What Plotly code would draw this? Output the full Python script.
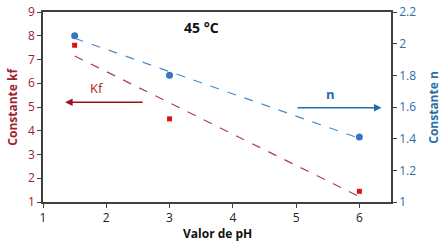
import numpy as np
import plotly.graph_objects as go

ph = [1.5, 3, 6]
kf = [7.6, 4.5, 1.45]
n_vals = [2.05, 1.80, 1.41]
x_ticks = [1, 2, 3, 4, 5, 6]
kf_ticks = [1, 2, 3, 4, 5, 6, 7, 8, 9]
n_ticks = [1, 1.2, 1.4, 1.6, 1.8, 2, 2.2]

RED_TXT = "#9B2335"
RED_MK = "#E01010"
BLUE_TXT = "#2E6DA8"
BLUE_MK = "#3A74C0"
FONT = "Open Sans"

kf_fit = np.polyfit(ph, kf, 1)
n_fit = np.polyfit(ph, n_vals, 1)
xf = [ph[0], ph[-1]]

fig = go.Figure()
fig.add_trace(go.Scatter(x=xf, y=list(np.polyval(kf_fit, xf)), mode="lines",
                         line=dict(color="#A8424E", width=1.2, dash="dash"), yaxis="y"))
fig.add_trace(go.Scatter(x=ph, y=kf, mode="markers",
                         marker=dict(color=RED_MK, size=5, symbol="square"), yaxis="y"))
fig.add_trace(go.Scatter(x=xf, y=list(np.polyval(n_fit, xf)), mode="lines",
                         line=dict(color="#4A8CC8", width=1.2, dash="dash"), yaxis="y2"))
fig.add_trace(go.Scatter(x=ph, y=n_vals, mode="markers",
                         marker=dict(color=BLUE_MK, size=7, symbol="circle"), yaxis="y2"))

fig.update_layout(
    width=442, height=245, showlegend=False,
    margin=dict(l=43, r=51, t=12, b=43, autoexpand=False),
    plot_bgcolor="white", paper_bgcolor="white",
    font=dict(family=FONT, size=12),
    xaxis=dict(range=[1, 6.5], tickvals=x_ticks, showgrid=False, zeroline=False,
               automargin=False,
               showline=True, linecolor="#404040", linewidth=1.5, mirror=True,
               ticks="outside", ticklen=4, tickcolor="#404040",
               tickfont=dict(color="#222222", size=12)),
    yaxis=dict(range=[1, 9], tickvals=kf_ticks, showgrid=False, zeroline=False,
               automargin=False,
               showline=True, linecolor="#404040", linewidth=1.5,
               ticks="outside", ticklen=4, tickcolor="#404040",
               tickfont=dict(color=RED_TXT, size=12)),
    yaxis2=dict(range=[1, 2.2], tickvals=n_ticks, overlaying="y", side="right",
                showgrid=False, zeroline=False, automargin=False,
                showline=True, linecolor="#404040", linewidth=1.5,
                ticks="outside", ticklen=4, tickcolor="#404040",
                tickfont=dict(color=BLUE_TXT, size=12)),
)

# axis titles
fig.add_annotation(x=0.5, y=-0.165, xref="paper", yref="paper", yanchor="middle",
                   text="<b>Valor de pH</b>", showarrow=False, font=dict(size=12, color="#111111"))
fig.add_annotation(x=-0.09, y=0.5, xref="paper", yref="paper", xanchor="center",
                   text="<b>Constante kf</b>", textangle=-90, showarrow=False,
                   font=dict(size=12, color=RED_TXT))
fig.add_annotation(x=1.12, y=0.5, xref="paper", yref="paper", xanchor="center",
                   text="<b>Constante n</b>", textangle=-90, showarrow=False,
                   font=dict(size=12, color=BLUE_TXT))

fig.add_annotation(x=3.5, y=8.35, xref="x", yref="y", text="<b>45 °C</b>", showarrow=False,
                   font=dict(size=14, color="#111111", family=FONT))
# Kf arrow (pointing left)
fig.add_annotation(x=1.35, y=5.2, ax=2.6, ay=5.2, xref="x", yref="y", axref="x", ayref="y",
                   text="", showarrow=True, arrowhead=2, arrowsize=1, arrowwidth=1.5,
                   arrowcolor="#A01020")
fig.add_annotation(x=1.85, y=5.8, xref="x", yref="y", text="Kf", showarrow=False,
                   font=dict(size=13, color="#B01820"))
# n arrow (pointing right)
fig.add_annotation(x=6.35, y=1.595, ax=5.0, ay=1.595, xref="x", yref="y2", axref="x", ayref="y2",
                   text="", showarrow=True, arrowhead=2, arrowsize=1, arrowwidth=1.5,
                   arrowcolor="#1F6FB0")
fig.add_annotation(x=5.55, y=1.68, xref="x", yref="y2", text="<b>n</b>", showarrow=False,
                   font=dict(size=13, color="#1F6FB0"))

fig.write_html("out.html", config={"displayModeBar": False},
               post_script="document.body.style.margin='0';document.body.style.overflow='hidden';")
